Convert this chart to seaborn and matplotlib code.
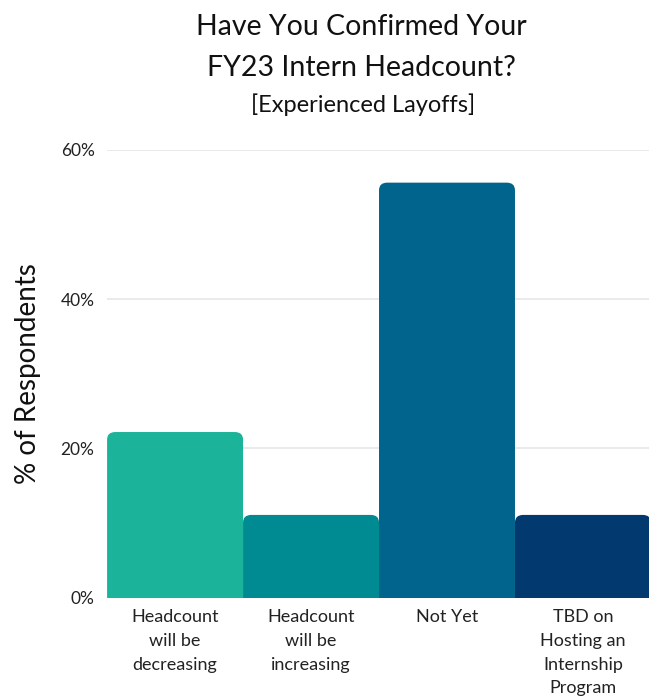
import matplotlib
matplotlib.use("Agg")
import matplotlib.pyplot as plt
from matplotlib.patches import FancyBboxPatch
import seaborn as sns

categories = [
    "Headcount\nwill be\ndecreasing",
    "Headcount\nwill be\nincreasing",
    "Not Yet",
    "TBD on\nHosting an\nInternship\nProgram",
]
values = [22.2, 11.1, 55.6, 11.1]
colors = ["#1bb399", "#008a92", "#01648c", "#023a70"]
yticks = [0, 20, 40, 60]

sns.set_theme(style="white")
plt.rcParams["font.family"] = ["Lato", "DejaVu Sans"]

fig = plt.figure(figsize=(6.49, 7), dpi=100)
ax = fig.add_axes([0.165, 0.146, 0.838, 0.640])

sns.barplot(x=categories, y=values, hue=categories, palette=colors,
            saturation=1, width=1.0, legend=False, ax=ax, zorder=2)

# swap plain bars for ones with rounded tops
for p in list(ax.patches):
    x, w, h = p.get_x(), p.get_width(), p.get_height()
    fc = p.get_facecolor()
    p.remove()
    ax.add_patch(FancyBboxPatch((x, -3), w, h + 3,
                                boxstyle="round,pad=0,rounding_size=0.06",
                                mutation_aspect=17, facecolor=fc,
                                edgecolor="none", zorder=2))

ax.set_ylim(0, 60)
ax.set_xlim(-0.5, 3.5)
ax.set_yticks(yticks)
ax.set_yticklabels([f"{t}%" for t in yticks], fontsize=12.5, color="#222222")
ax.tick_params(axis="y", length=0, pad=9)
ax.tick_params(axis="x", length=0, pad=8)
for lbl in ax.get_xticklabels():
    lbl.set_fontsize(13)
    lbl.set_linespacing(1.6)
    lbl.set_verticalalignment("top")
    lbl.set_color("#222222")
ax.yaxis.grid(True, color="#e6e6e6", linewidth=1.2, zorder=0)
ax.set_axisbelow(True)
for s in ax.spines.values():
    s.set_visible(False)
ax.set_xlabel("")
ax.set_ylabel("% of Respondents", fontsize=20, color="#111111", labelpad=14)

fig.text(0.557, 0.962, "Have You Confirmed Your", ha="center", va="center",
         fontsize=20.5, color="#111111")
fig.text(0.557, 0.903, "FY23 Intern Headcount?", ha="center", va="center",
         fontsize=20.5, color="#111111")
fig.text(0.560, 0.851, "[Experienced Layoffs]", ha="center", va="center",
         fontsize=17, color="#111111")

fig.savefig("out.png", dpi=100)
